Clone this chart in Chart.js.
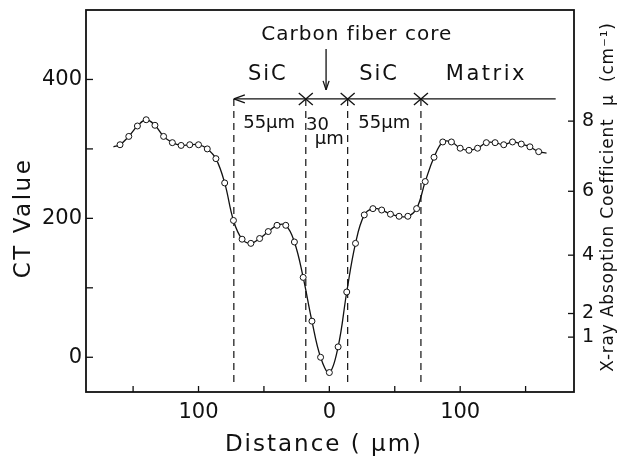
<!DOCTYPE html>
<html>
<head>
<meta charset="utf-8">
<script src="https://cdn.jsdelivr.net/npm/chart.js@4"></script>
<style>
  body { margin: 0; background: #fff; }
  #wrap { width: 623px; height: 465px; }
</style>
</head>
<body>
<div id="wrap"><canvas id="ct-chart"></canvas></div>
<script>
// line profile across the fibre, first and last entries are the curve ends (no marker)
const distance = [-165, -160, -153.3, -146.7, -140, -133.3, -126.7, -120, -113.3, -106.7, -100,
  -93.3, -86.7, -80, -73.3, -66.7, -60, -53.3, -46.7, -40, -33.3, -26.7, -20, -13.3, -6.7,
  0, 6.7, 13.3, 20, 26.7, 33.3, 40, 46.7, 53.3, 60, 66.7, 73.3, 80, 86.7, 93.3, 100,
  106.7, 113.3, 120, 126.7, 133.3, 140, 146.7, 153.3, 160, 166];
const ctValue = [303, 306, 318, 333, 342, 334, 318, 309, 305, 306, 306,
  300, 286, 251, 197, 170, 164, 171, 181, 190, 190, 166, 115, 52, 0,
  -22, 15, 94, 164, 205, 214, 212, 206, 203, 203, 214, 253, 288, 310, 310, 301,
  298, 301, 309, 309, 306, 310, 307, 303, 296, 294];

const xTickValues = [-150, -100, -50, 0, 50, 100, 150];
const xTickLabels = ['', '100', '', '0', '', '100', ''];
const yTickValues = [0, 100, 200, 300, 400];
const yTickLabels = ['0', '', '200', '', '400'];
// right axis: mu values and the CT value each one sits at
const muTickLabels = ['1', '2', '4', '6', '8'];
const muTickCT = [29, 63, 147, 239, 340];

// layer boundaries (um)
const boundaries = [-73, -18, 14, 70];

const notes = [
  { text: 'Carbon fiber core', x: 21, y: 464, size: 20, sp: 1 },
  { text: 'SiC', x: -47, y: 407, size: 21, sp: 2 },
  { text: 'SiC', x: 38, y: 407, size: 21, sp: 2 },
  { text: 'Matrix', x: 120, y: 407, size: 21, sp: 2.5 },
  { text: '55µm', x: -46, y: 337, size: 18, sp: 0 },
  { text: '30', x: -9, y: 334, size: 18, sp: 0 },
  { text: 'µm', x: 0, y: 314, size: 18, sp: 0 },
  { text: '55µm', x: 42, y: 337, size: 18, sp: 0 }
];

const FONT = '"DejaVu Sans", sans-serif';

function line(ctx, x1, y1, x2, y2) {
  ctx.beginPath();
  ctx.moveTo(x1, y1);
  ctx.lineTo(x2, y2);
  ctx.stroke();
}

function label(ctx, text, x, y, size, sp, rot) {
  ctx.save();
  ctx.translate(x, y);
  if (rot) ctx.rotate(rot);
  ctx.font = size + 'px ' + FONT;
  ctx.letterSpacing = sp + 'px';
  ctx.textAlign = 'center';
  ctx.textBaseline = 'middle';
  ctx.fillStyle = '#111';
  ctx.fillText(text, 0, 0);
  ctx.restore();
}

// pin the plot box: no extra label padding from the scales
function noPad(s) {
  s.paddingTop = 0; s.paddingBottom = 0; s.paddingLeft = 0; s.paddingRight = 0;
}

const drawings = {
  id: 'drawings',
  beforeDatasetsDraw(chart) {
    const { ctx, scales: { x, y } } = chart;
    ctx.save();
    ctx.strokeStyle = '#111';
    ctx.lineWidth = 1.2;
    ctx.setLineDash([7, 5]);
    boundaries.forEach(b => line(ctx, x.getPixelForValue(b), y.getPixelForValue(372), x.getPixelForValue(b), y.getPixelForValue(-37)));
    ctx.restore();
  },
  afterDraw(chart) {
    const { ctx, chartArea: a, scales: { x, y, y2 } } = chart;
    ctx.save();
    ctx.strokeStyle = '#111';
    ctx.lineWidth = 1.8;
    ctx.strokeRect(a.left, a.top, a.right - a.left, a.bottom - a.top);

    // inward tick marks
    ctx.lineWidth = 1.3;
    x.ticks.forEach(t => { const px = x.getPixelForValue(t.value); line(ctx, px, a.bottom, px, a.bottom - 6); });
    y.ticks.forEach(t => { const py = y.getPixelForValue(t.value); line(ctx, a.left, py, a.left + 7, py); });
    y2.ticks.forEach(t => { const py = y2.getPixelForValue(t.value); line(ctx, a.right, py, a.right - 6, py); });

    // layer bracket line
    const ly = y.getPixelForValue(372);
    const lx = x.getPixelForValue(boundaries[0]);
    line(ctx, lx, ly, x.getPixelForValue(173), ly);
    line(ctx, lx, ly, lx + 11, ly - 4);
    line(ctx, lx, ly, lx + 11, ly + 4);
    boundaries.slice(1).forEach(b => {
      const px = x.getPixelForValue(b);
      line(ctx, px - 7, ly - 6, px + 7, ly + 6);
      line(ctx, px - 7, ly + 6, px + 7, ly - 6);
    });

    // core arrow
    const ax = x.getPixelForValue(-2.5);
    const top = y.getPixelForValue(444), tip = y.getPixelForValue(385);
    line(ctx, ax, top, ax, tip);
    line(ctx, ax, tip, ax - 3, tip - 9);
    line(ctx, ax, tip, ax + 3, tip - 9);
    ctx.restore();

    notes.forEach(n => label(ctx, n.text, x.getPixelForValue(n.x), y.getPixelForValue(n.y), n.size, n.sp));

    // axis titles
    label(ctx, 'CT Value', 24, 218, 23, 2.5, -Math.PI / 2);
    label(ctx, 'Distance ( µm)', 324, 445, 23, 2);
    label(ctx, 'X-ray Absoption Coefficient  µ  (cm⁻¹)', 609, 197, 17, 0.8, -Math.PI / 2);
  }
};

new Chart(document.getElementById('ct-chart'), {
  type: 'line',
  data: {
    datasets: [{
      data: distance.map((d, i) => ({ x: d, y: ctValue[i] })),
      borderColor: '#111',
      borderWidth: 1.3,
      tension: 0.4,
      pointRadius: c => (c.dataIndex === 0 || c.dataIndex === distance.length - 1) ? 0 : 3,
      pointBackgroundColor: '#fff',
      pointBorderColor: '#111',
      pointBorderWidth: 1,
      fill: false
    }]
  },
  options: {
    responsive: true,
    maintainAspectRatio: false,
    animation: false,
    events: [],
    layout: { padding: { top: 10 } },
    plugins: { legend: { display: false }, tooltip: { enabled: false } },
    scales: {
      x: {
        type: 'linear', min: -186, max: 187,
        afterBuildTicks: s => { s.ticks = xTickValues.map(v => ({ value: v })); },
        afterFit: s => { s.height = 73; noPad(s); },
        grid: { display: false, drawTicks: false }, border: { display: false },
        ticks: { autoSkip: false, maxRotation: 0, padding: 8, color: '#111',
          font: { family: FONT, size: 21 }, callback: (v, i) => xTickLabels[i] }
      },
      y: {
        min: -50, max: 500,
        afterBuildTicks: s => { s.ticks = yTickValues.map(v => ({ value: v })); },
        afterFit: s => { s.width = 86; noPad(s); },
        grid: { display: false, drawTicks: false }, border: { display: false },
        ticks: { autoSkip: false, padding: 4, color: '#111',
          font: { family: FONT, size: 21 }, callback: (v, i) => yTickLabels[i] }
      },
      y2: {
        position: 'right', min: -50, max: 500,
        afterBuildTicks: s => { s.ticks = muTickCT.map(v => ({ value: v })); },
        afterFit: s => { s.width = 49; noPad(s); },
        grid: { display: false, drawTicks: false }, border: { display: false },
        ticks: { autoSkip: false, padding: 8, color: '#111',
          font: { family: FONT, size: 19 }, callback: (v, i) => muTickLabels[i] }
      }
    }
  },
  plugins: [drawings]
});
</script>
</body>
</html>
